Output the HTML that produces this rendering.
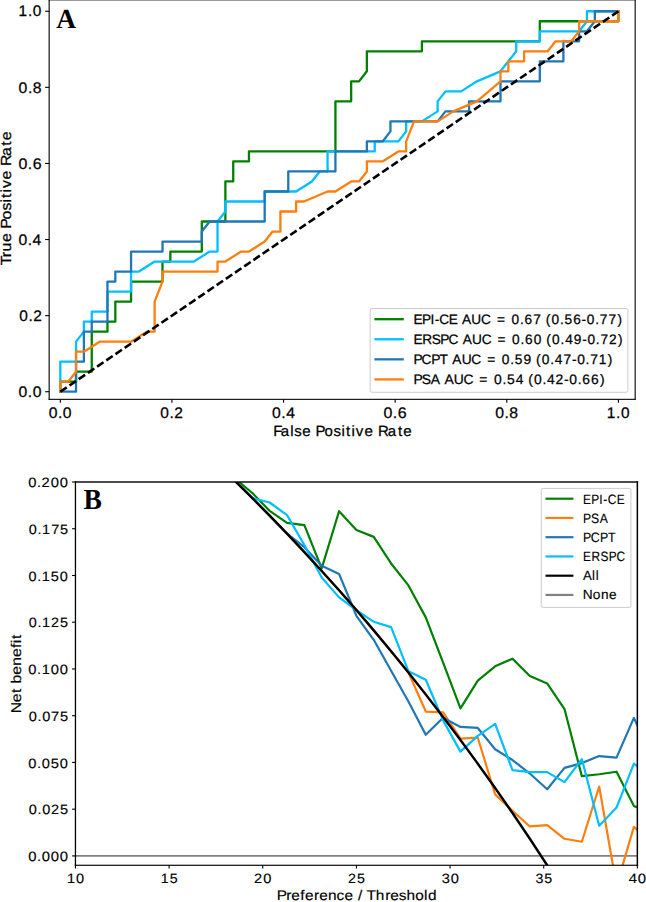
<!DOCTYPE html>
<html><head><meta charset="utf-8"><style>html,body{margin:0;padding:0;background:#fff;}svg{display:block;}text{text-rendering:geometricPrecision;font-variant-ligatures:none;}</style></head>
<body><svg width="646" height="902" viewBox="0 0 646 902">
<rect width="646" height="902" fill="#fff"/>
<defs>
<clipPath id="ca"><rect x="49.15" y="-0.15" width="586" height="399.48"/></clipPath>
<clipPath id="cb"><rect x="75.45" y="482.0" width="561.9" height="383.27"/></clipPath>
</defs>
<g clip-path="url(#ca)">
<polyline points="60.31,391.72 60.31,381.71 68.17,381.71 76.03,381.71 76.03,371.7 91.75,371.7 91.75,331.65 107.47,331.65 107.47,321.64 115.33,321.64 115.33,301.61 131.06,301.61 131.06,281.59 162.5,281.59 162.5,261.56 170.36,261.56 170.36,251.55 201.8,251.55 201.8,221.51 225.38,221.51 225.38,181.47 233.24,181.47 233.24,161.44 248.96,161.44 248.96,151.43 335.43,151.43 335.43,101.37 351.15,101.37 351.15,81.34 359.01,81.34 366.87,71.33 366.87,51.31 421.9,51.31 421.9,41.3 539.8,41.3 539.8,21.27 618.41,21.27 618.41,11.26" fill="none" stroke="#008000" stroke-width="2.3" stroke-linejoin="round" stroke-linecap="square"/>
<polyline points="60.31,391.72 60.31,361.68 76.03,361.68 76.03,341.66 83.89,331.65 83.89,321.64 91.75,321.64 91.75,311.62 107.47,311.62 107.47,291.6 131.06,291.6 131.06,271.57 138.92,271.57 154.64,261.56 193.94,261.56 209.66,251.55 217.52,251.55 217.52,221.51 225.38,211.5 225.38,201.49 264.68,201.49 264.68,191.48 296.13,191.48 311.85,181.47 319.71,171.45 327.57,171.45 327.57,151.43 374.73,151.43 374.73,141.42 398.31,141.42 406.17,131.41 406.17,121.39 421.9,121.39 437.62,111.38 437.62,101.37 445.48,91.36 461.2,91.36 476.92,81.34 500.5,71.33 516.22,51.31 516.22,41.3 539.8,41.3 539.8,31.28 579.11,31.28 586.97,21.27 586.97,11.26 618.41,11.26" fill="none" stroke="#00bfff" stroke-width="2.3" stroke-linejoin="round" stroke-linecap="square"/>
<polyline points="60.31,391.72 76.03,391.72 76.03,361.68 83.89,361.68 83.89,331.65 91.75,331.65 91.75,321.64 107.47,321.64 107.47,281.59 115.33,281.59 115.33,271.57 131.06,271.57 131.06,251.55 162.5,251.55 162.5,241.54 201.8,241.54 201.8,231.53 209.66,221.51 264.68,221.51 264.68,191.48 288.27,191.48 288.27,171.45 335.43,171.45 335.43,151.43 366.87,151.43 366.87,141.42 382.59,141.42 390.45,131.41 390.45,121.39 437.62,121.39 445.48,111.38 469.06,111.38 469.06,101.37 500.5,101.37 500.5,81.34 539.8,81.34 539.8,61.32 563.39,61.32 563.39,41.3 579.11,41.3 579.11,31.28 586.97,31.28 594.83,21.27 594.83,11.26 618.41,11.26" fill="none" stroke="#1f77b4" stroke-width="2.3" stroke-linejoin="round" stroke-linecap="square"/>
<polyline points="60.31,391.72 60.31,381.71 68.17,381.71 76.03,371.7 76.03,351.67 83.89,351.67 99.61,341.66 131.06,341.66 146.78,331.65 154.64,331.65 154.64,301.61 162.5,281.59 162.5,271.57 217.52,271.57 217.52,261.56 225.38,261.56 241.1,251.55 248.96,251.55 264.68,241.54 272.55,231.53 280.41,231.53 280.41,211.5 296.13,211.5 296.13,201.49 303.99,201.49 327.57,191.48 335.43,191.48 351.15,181.47 359.01,181.47 366.87,171.45 366.87,161.44 382.59,161.44 398.31,151.43 406.17,151.43 406.17,141.42 414.04,121.39 437.62,121.39 453.34,111.38 476.92,101.37 500.5,81.34 500.5,71.33 508.36,71.33 508.36,61.32 524.08,61.32 524.08,51.31 547.66,51.31 555.53,41.3 571.25,41.3 579.11,31.28 579.11,21.27 618.41,21.27 618.41,11.26" fill="none" stroke="#ff7f0e" stroke-width="2.3" stroke-linejoin="round" stroke-linecap="square"/>
<line x1="60.31" y1="391.72" x2="618.41" y2="11.26" stroke="#000" stroke-width="2.6" stroke-dasharray="7.77 3.36"/>
</g>
<rect x="48.6" y="-0.7" width="1.11" height="400.57" fill="#000"/>
<rect x="634.6" y="-0.7" width="1.1" height="400.57" fill="#000"/>
<rect x="48.6" y="-0.7" width="587.1" height="1.1" fill="#000"/>
<rect x="48.6" y="398.8" width="587.1" height="1.07" fill="#000"/>
<rect x="59.76" y="399.5" width="1.1" height="3.25" fill="#000"/>
<rect x="45.15" y="391.17" width="4.05" height="1.1" fill="#000"/>
<rect x="171.38" y="399.5" width="1.1" height="3.25" fill="#000"/>
<rect x="45.15" y="315.08" width="4.05" height="1.1" fill="#000"/>
<rect x="283" y="399.5" width="1.1" height="3.25" fill="#000"/>
<rect x="45.15" y="238.99" width="4.05" height="1.1" fill="#000"/>
<rect x="394.62" y="399.5" width="1.1" height="3.25" fill="#000"/>
<rect x="45.15" y="162.89" width="4.05" height="1.1" fill="#000"/>
<rect x="506.24" y="399.5" width="1.1" height="3.25" fill="#000"/>
<rect x="45.15" y="86.8" width="4.05" height="1.1" fill="#000"/>
<rect x="617.86" y="399.5" width="1.1" height="3.25" fill="#000"/>
<rect x="45.15" y="10.71" width="4.05" height="1.1" fill="#000"/>
<text transform="translate(0,396.87) scale(1.0270,1)" x="18.11 27.14 31.92" font-family="Liberation Sans" font-size="15.30" fill="#000" stroke="#000" stroke-width="0.25">0.0</text>
<text transform="translate(0,417.75) scale(1.0270,1)" x="47.41 56.45 61.23" font-family="Liberation Sans" font-size="15.30" fill="#000" stroke="#000" stroke-width="0.25">0.0</text>
<text transform="translate(0,320.78) scale(1.0106,1)" x="18.97 28.11 32.81" font-family="Liberation Sans" font-size="15.30" fill="#000" stroke="#000" stroke-width="0.25">0.2</text>
<text transform="translate(0,417.75) scale(1.0106,1)" x="158.69 167.84 172.54" font-family="Liberation Sans" font-size="15.30" fill="#000" stroke="#000" stroke-width="0.25">0.2</text>
<text transform="translate(0,244.69) scale(1.0270,1)" x="17.96 26.99 31.77" font-family="Liberation Sans" font-size="15.30" fill="#000" stroke="#000" stroke-width="0.25">0.4</text>
<text transform="translate(0,417.75) scale(1.0270,1)" x="264.79 273.83 278.61" font-family="Liberation Sans" font-size="15.30" fill="#000" stroke="#000" stroke-width="0.25">0.4</text>
<text transform="translate(0,168.59) scale(1.0430,1)" x="17.72 26.64 31.32" font-family="Liberation Sans" font-size="15.30" fill="#000" stroke="#000" stroke-width="0.25">0.6</text>
<text transform="translate(0,417.75) scale(1.0430,1)" x="367.68 376.61 381.28" font-family="Liberation Sans" font-size="15.30" fill="#000" stroke="#000" stroke-width="0.25">0.6</text>
<text transform="translate(0,92.5) scale(1.0320,1)" x="18.03 27.03 31.78" font-family="Liberation Sans" font-size="15.30" fill="#000" stroke="#000" stroke-width="0.25">0.8</text>
<text transform="translate(0,417.75) scale(1.0320,1)" x="479.81 488.81 493.55" font-family="Liberation Sans" font-size="15.30" fill="#000" stroke="#000" stroke-width="0.25">0.8</text>
<text transform="translate(0,16.41) scale(1.0073,1)" x="18.47 27.71 32.63" font-family="Liberation Sans" font-size="15.30" fill="#000" stroke="#000" stroke-width="0.25">1.0</text>
<text transform="translate(0,417.75) scale(1.0073,1)" x="602.38 611.63 616.54" font-family="Liberation Sans" font-size="15.30" fill="#000" stroke="#000" stroke-width="0.25">1.0</text>
<text transform="translate(0,436.1) scale(1.0196,1)" x="268.05 275.27 284.78 288.66 296.48 305.32 309.43 318.36 327.14 334.94 339.38 344.73 349.02 357.46 366.3 370.66 380.34 390.24 395.61" font-family="Liberation Sans" font-size="14.75" fill="#000" stroke="#000" stroke-width="0.25">False Positive Rate</text>
<text transform="translate(10.65,0) rotate(-90) scale(1.0772,1)" x="-246.2 -238.82 -233.48 -224.73 -216.21 -212.43 -203.88 -195.49 -187.98 -183.77 -178.65 -174.64 -166.62 -158.11 -154.1 -144.83 -135.3 -130.27" font-family="Liberation Sans" font-size="14.70" fill="#000" stroke="#000" stroke-width="0.25">True Positive Rate</text>
<rect x="370.2" y="308.5" width="257.7" height="83.8" rx="1.8" ry="1.8" fill="#fff" fill-opacity="0.8" stroke="#cccccc" stroke-width="1"/>
<line x1="374.4" y1="319.2" x2="403.8" y2="319.2" stroke="#008000" stroke-width="2.3"/>
<text transform="translate(0,324.1) scale(0.9988,1)" x="413.88 422.59 431.15 435.26 439.75 449.26 458.45 462.63 471.93 481.63 491.69 497.49 507.48 512.09 520.52 525.14 533.8 542.26 546.37 552.2 560.62 565.19 573.94 582.28 587.56 595.98 600.57 609.27 618.19" font-family="Liberation Sans" font-size="13.70" fill="#000" stroke="#000" stroke-width="0.25">EPI-CE AUC = 0.67 (0.56-0.77)</text>
<line x1="374.4" y1="339.27" x2="403.8" y2="339.27" stroke="#00bfff" stroke-width="2.3"/>
<text transform="translate(0,344.05) scale(0.9981,1)" x="414.18 423.14 432.46 441.08 449.29 459.36 463.54 472.85 482.56 492.62 498.43 508.43 513.04 521.47 526.1 534.79 543.23 547.35 553.18 561.61 566.22 574.89 583.28 588.57 596.99 601.59 610.14 619.21" font-family="Liberation Sans" font-size="13.70" fill="#000" stroke="#000" stroke-width="0.25">ERSPC AUC = 0.60 (0.49-0.72)</text>
<line x1="374.4" y1="359.34" x2="403.8" y2="359.34" stroke="#1f77b4" stroke-width="2.3"/>
<text transform="translate(0,364) scale(1.0072,1)" x="410.45 418.58 428.08 436.46 445.03 449.15 458.37 467.99 477.99 483.73 493.65 498.21 506.58 511.09 519.72 528.14 532.21 537.98 546.35 550.91 559.51 567.82 573.04 581.41 585.95 594.53 603.43" font-family="Liberation Sans" font-size="13.70" fill="#000" stroke="#000" stroke-width="0.25">PCPT AUC = 0.59 (0.47-0.71)</text>
<line x1="374.4" y1="379.41" x2="403.8" y2="379.41" stroke="#ff7f0e" stroke-width="2.3"/>
<text transform="translate(0,383.95) scale(1.0124,1)" x="408.34 416.52 425.59 435.01 439.1 448.27 457.84 467.8 473.5 483.39 487.91 496.25 500.72 509.35 517.69 521.74 527.48 535.81 540.34 548.74 557.17 562.36 570.7 575.23 583.81 592.6" font-family="Liberation Sans" font-size="13.70" fill="#000" stroke="#000" stroke-width="0.25">PSA AUC = 0.54 (0.42-0.66)</text>
<text transform="translate(56.23,27.6) scale(0.9892,1)" font-family="Liberation Serif" font-weight="bold" font-size="27.73" fill="#000">A</text>
<g clip-path="url(#cb)">
<line x1="75.45" y1="855.9200000000001" x2="637.35" y2="855.9200000000001" stroke="#808080" stroke-width="1.9"/>
<polyline points="217.66,464.12 235,478.57 252.34,493.03 269.69,510.88 287.03,522.96 304.37,525.13 321.71,568.38 339.06,511.2 356.4,530.03 373.74,536.89 391.09,563.46 408.43,585.44 425.77,617.35 443.11,662.73 460.46,708.41 477.8,680.69 495.14,666.3 512.48,658.67 529.83,675.94 547.17,683.42 564.51,709.01 581.85,776.21 599.2,774.25 616.54,771.72 633.88,806 651.22,813.48" fill="none" stroke="#008000" stroke-width="2.2" stroke-linejoin="round" stroke-linecap="square"/>
<polyline points="217.66,464.12 235,480.91 252.34,498.09 269.69,515.67 287.03,533.66 304.37,552.08 321.71,570.94 339.06,590.27 356.4,610.07 373.74,630.37 391.09,651.18 408.43,672.52 425.77,711.57 443.11,712.38 460.46,738.6 477.8,737.71 495.14,794.36 512.48,810.86 529.83,826.45 547.17,825.05 564.51,838.77 581.85,841.79 599.2,786.54 616.54,885.83 633.88,826.89 651.22,840.96" fill="none" stroke="#ff7f0e" stroke-width="2.2" stroke-linejoin="round" stroke-linecap="square"/>
<polyline points="217.66,464.12 235,480.91 252.34,498.09 269.69,515.67 287.03,533.66 304.37,547.18 321.71,565.78 339.06,573.95 356.4,615.79 373.74,639.8 391.09,670.83 408.43,701.55 425.77,734.74 443.11,717.8 460.46,726.93 477.8,727.97 495.14,749.25 512.48,760.01 529.83,773.54 547.17,789.27 564.51,767.92 581.85,763.1 599.2,756.08 616.54,757.68 633.88,717.91 651.22,755.71" fill="none" stroke="#1f77b4" stroke-width="2.2" stroke-linejoin="round" stroke-linecap="square"/>
<polyline points="217.66,464.12 235,480.91 252.34,498.09 269.69,502.5 287.03,515.09 304.37,545.01 321.71,577.54 339.06,597.38 356.4,610.07 373.74,621.79 391.09,627.08 408.43,671.2 425.77,679.72 443.11,720.37 460.46,751.63 477.8,735.85 495.14,723.87 512.48,770.16 529.83,772.09 547.17,772.12 564.51,782.09 581.85,759.06 599.2,825.71 616.54,807.58 633.88,763.56 651.22,777.4" fill="none" stroke="#00bfff" stroke-width="2.2" stroke-linejoin="round" stroke-linecap="square"/>
<polyline points="182.97,431.64 200.32,447.7 217.66,464.12 235,480.91 252.34,498.09 269.69,515.67 287.03,533.66 304.37,552.08 321.71,570.94 339.06,590.27 356.4,610.07 373.74,630.37 391.09,651.18 408.43,672.52 425.77,694.42 443.11,716.9 460.46,739.97 477.8,763.67 495.14,788.02 512.48,813.04 529.83,838.77 547.17,865.23 564.51,892.46" fill="none" stroke="#000" stroke-width="2.4" stroke-linejoin="round" stroke-linecap="square"/>
</g>
<rect x="74.8" y="481.3" width="1.3" height="384.55" fill="#000"/>
<rect x="636.6" y="481.3" width="1.5" height="384.55" fill="#000"/>
<rect x="74.8" y="481.3" width="563.3" height="1.4" fill="#000"/>
<rect x="74.8" y="864.7" width="563.3" height="1.15" fill="#000"/>
<rect x="74.9" y="865.3" width="1.1" height="3.2" fill="#000"/>
<rect x="168.55" y="865.3" width="1.1" height="3.2" fill="#000"/>
<rect x="262.2" y="865.3" width="1.1" height="3.2" fill="#000"/>
<rect x="355.85" y="865.3" width="1.1" height="3.2" fill="#000"/>
<rect x="449.5" y="865.3" width="1.1" height="3.2" fill="#000"/>
<rect x="543.15" y="865.3" width="1.1" height="3.2" fill="#000"/>
<rect x="636.8" y="865.3" width="1.1" height="3.2" fill="#000"/>
<rect x="72.05" y="855.37" width="3.45" height="1.1" fill="#000"/>
<rect x="72.05" y="808.63" width="3.45" height="1.1" fill="#000"/>
<rect x="72.05" y="761.89" width="3.45" height="1.1" fill="#000"/>
<rect x="72.05" y="715.15" width="3.45" height="1.1" fill="#000"/>
<rect x="72.05" y="668.41" width="3.45" height="1.1" fill="#000"/>
<rect x="72.05" y="621.67" width="3.45" height="1.1" fill="#000"/>
<rect x="72.05" y="574.93" width="3.45" height="1.1" fill="#000"/>
<rect x="72.05" y="528.19" width="3.45" height="1.1" fill="#000"/>
<rect x="72.05" y="481.45" width="3.45" height="1.1" fill="#000"/>
<text transform="translate(0,861.02) scale(1.0975,1)" x="25.8 33.81 38.06 46.23 54.41" font-family="Liberation Sans" font-size="13.56" fill="#000" stroke="#000" stroke-width="0.15">0.000</text>
<text transform="translate(0,814.28) scale(1.0737,1)" x="26.73 34.88 39.26 47.44 55.92" font-family="Liberation Sans" font-size="13.56" fill="#000" stroke="#000" stroke-width="0.15">0.025</text>
<text transform="translate(0,767.54) scale(1.0829,1)" x="26.2 34.29 38.62 46.85 55.19" font-family="Liberation Sans" font-size="13.56" fill="#000" stroke="#000" stroke-width="0.15">0.050</text>
<text transform="translate(0,720.8) scale(1.0773,1)" x="26.63 34.76 39.12 47.42 55.72" font-family="Liberation Sans" font-size="13.56" fill="#000" stroke="#000" stroke-width="0.15">0.075</text>
<text transform="translate(0,674.06) scale(1.0867,1)" x="26.09 34.17 38.4 46.73 54.98" font-family="Liberation Sans" font-size="13.56" fill="#000" stroke="#000" stroke-width="0.15">0.100</text>
<text transform="translate(0,627.32) scale(1.0621,1)" x="27.06 35.28 39.66 48 56.57" font-family="Liberation Sans" font-size="13.56" fill="#000" stroke="#000" stroke-width="0.15">0.125</text>
<text transform="translate(0,580.58) scale(1.0717,1)" x="26.51 34.67 39 47.38 55.8" font-family="Liberation Sans" font-size="13.56" fill="#000" stroke="#000" stroke-width="0.15">0.150</text>
<text transform="translate(0,533.84) scale(1.0658,1)" x="26.96 35.15 39.51 47.97 56.36" font-family="Liberation Sans" font-size="13.56" fill="#000" stroke="#000" stroke-width="0.15">0.175</text>
<text transform="translate(0,487.1) scale(1.0884,1)" x="26.05 34.11 38.23 46.65 54.89" font-family="Liberation Sans" font-size="13.56" fill="#000" stroke="#000" stroke-width="0.15">0.200</text>
<text transform="translate(0,882.75) scale(1.0766,1)" x="62.2 70.63" font-family="Liberation Sans" font-size="13.56" fill="#000" stroke="#000" stroke-width="0.15">10</text>
<text transform="translate(0,882.75) scale(1.0441,1)" x="153.96 162.59" font-family="Liberation Sans" font-size="13.56" fill="#000" stroke="#000" stroke-width="0.15">15</text>
<text transform="translate(0,882.75) scale(1.0806,1)" x="235.17 243.68" font-family="Liberation Sans" font-size="13.56" fill="#000" stroke="#000" stroke-width="0.15">20</text>
<text transform="translate(0,882.75) scale(1.0490,1)" x="331.66 340.36" font-family="Liberation Sans" font-size="13.56" fill="#000" stroke="#000" stroke-width="0.15">25</text>
<text transform="translate(0,882.75) scale(1.0783,1)" x="409.58 417.91" font-family="Liberation Sans" font-size="13.56" fill="#000" stroke="#000" stroke-width="0.15">30</text>
<text transform="translate(0,882.75) scale(1.0473,1)" x="511.25 519.77" font-family="Liberation Sans" font-size="13.56" fill="#000" stroke="#000" stroke-width="0.15">35</text>
<text transform="translate(0,882.75) scale(1.1001,1)" x="571.64 579.83" font-family="Liberation Sans" font-size="13.56" fill="#000" stroke="#000" stroke-width="0.15">40</text>
<text transform="translate(0,900.25) scale(1.1040,1)" x="250.62 259.25 263.79 272.07 276.2 284.54 289.08 297.09 304.89 312.15 320.05 324.25 328.45 332.09 340.45 348.94 353.47 361.22 368.15 376.13 384.16 387.62" font-family="Liberation Sans" font-size="13.95" fill="#000" stroke="#000" stroke-width="0.15">Preference / Threshold</text>
<text transform="translate(20.9,0) rotate(-90) scale(1.1168,1)" x="-638.63 -628.83 -620.57 -616.06 -611.94 -604.1 -596.22 -588.34 -580.15 -575.93 -572.14" font-family="Liberation Sans" font-size="14.10" fill="#000" stroke="#000" stroke-width="0.15">Net benefit</text>
<rect x="541.3" y="488.4" width="89.6" height="119.0" rx="1.8" ry="1.8" fill="#fff" fill-opacity="0.8" stroke="#cccccc" stroke-width="1"/>
<line x1="545.5" y1="498.7" x2="573.4" y2="498.7" stroke="#008000" stroke-width="2.2"/>
<text transform="translate(0,503.75) scale(0.8825,1)" x="660.64 670.06 679.06 683.54 688.68 698.95" font-family="Liberation Sans" font-size="13.50" fill="#000" stroke="#000" stroke-width="0.15">EPI-CE</text>
<line x1="545.5" y1="517.95" x2="573.4" y2="517.95" stroke="#ff7f0e" stroke-width="2.2"/>
<text transform="translate(0,522.87) scale(0.9023,1)" x="646.09 654.86 664.59" font-family="Liberation Sans" font-size="13.50" fill="#000" stroke="#000" stroke-width="0.15">PSA</text>
<line x1="545.5" y1="537.2" x2="573.4" y2="537.2" stroke="#1f77b4" stroke-width="2.2"/>
<text transform="translate(0,541.99) scale(0.9173,1)" x="635.46 644.02 653.98 662.75" font-family="Liberation Sans" font-size="13.50" fill="#000" stroke="#000" stroke-width="0.15">PCPT</text>
<line x1="545.5" y1="556.45" x2="573.4" y2="556.45" stroke="#00bfff" stroke-width="2.2"/>
<text transform="translate(0,561.11) scale(0.8774,1)" x="664.48 674.27 684.34 693.75 702.71" font-family="Liberation Sans" font-size="13.50" fill="#000" stroke="#000" stroke-width="0.15">ERSPC</text>
<line x1="545.5" y1="575.7" x2="573.4" y2="575.7" stroke="#000" stroke-width="2.2"/>
<text transform="translate(0,580.23) scale(0.9775,1)" x="596.32 605.76 609.47" font-family="Liberation Sans" font-size="13.50" fill="#000" stroke="#000" stroke-width="0.15">All</text>
<line x1="545.5" y1="594.95" x2="573.4" y2="594.95" stroke="#808080" stroke-width="2.2"/>
<text transform="translate(0,599.35) scale(1.0145,1)" x="574.46 584.34 592.38 600.42" font-family="Liberation Sans" font-size="13.50" fill="#000" stroke="#000" stroke-width="0.15">None</text>
<text transform="translate(83.45,508.8) scale(0.9485,1)" font-family="Liberation Serif" font-weight="bold" font-size="29.08" fill="#000">B</text>
</svg></body></html>
